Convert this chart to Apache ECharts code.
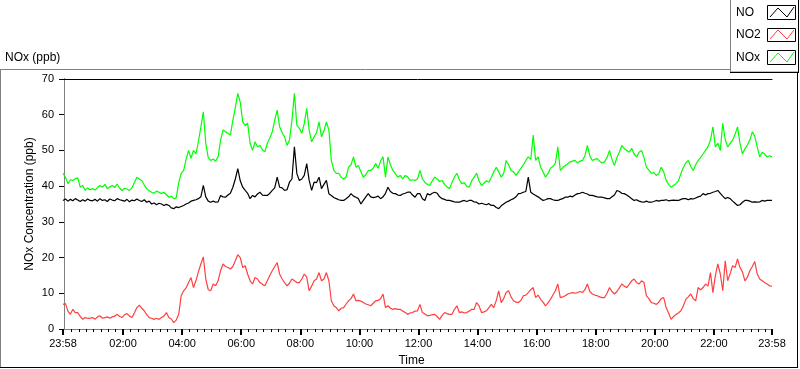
<!DOCTYPE html>
<html>
<head>
<meta charset="utf-8">
<script src="https://cdn.jsdelivr.net/npm/echarts@6/dist/echarts.min.js"></script>
<style>html,body{margin:0;padding:0;background:#fff;}#chart{width:800px;height:369px;}</style>
</head>
<body>
<div id="chart"></div>
<script>
// Sampling: one value every 5 minutes, starting 23:58 (=-2 min) to 23:58 next day
var startMinute = -2;
var stepMinutes = 5;

var tickMinutes = [-2, 120, 240, 360, 480, 600, 720, 840, 960, 1080, 1200, 1320, 1438];
var tickLabels = ['23:58', '02:00', '04:00', '06:00', '08:00', '10:00', '12:00', '14:00', '16:00', '18:00', '20:00', '22:00', '23:58'];

var seriesNames = ['NO', 'NO2', 'NOx'];

var noxValues = [
  43.6, 42.5, 40.7, 41.8, 41.6, 42.1, 42.3, 39.7, 40.2, 38.8, 39.5, 39.0,
  39.3, 38.9, 39.6, 40.2, 39.7, 40.5, 39.3, 39.8, 40.2, 39.6, 40.6, 39.4,
  38.8, 39.4, 39.2, 38.8, 39.5, 41.0, 42.5, 42.0, 41.6, 40.3, 39.3, 38.7,
  38.3, 38.0, 38.6, 38.3, 37.9, 38.3, 37.6, 36.9, 37.2, 36.5, 36.7, 41.0,
  43.6, 44.4, 47.5, 50.0, 47.8, 50.0, 49.0, 52.5, 56.5, 60.8, 52.0, 48.0,
  47.2, 47.6, 47.0, 48.2, 52.9, 55.7, 55.2, 54.8, 54.3, 58.5, 62.0, 66.0,
  63.5, 58.0, 57.0, 57.6, 52.0, 50.0, 52.4, 51.0, 51.4, 50.2, 49.6, 52.0,
  53.5, 55.2, 58.5, 61.3, 56.6, 55.0, 53.8, 51.4, 52.9, 58.5, 66.0, 57.0,
  56.2, 54.8, 57.5, 61.8, 55.7, 52.4, 53.8, 55.0, 58.0, 53.8, 55.5, 58.0,
  55.7, 47.2, 44.4, 43.6, 43.6, 42.5, 42.0, 42.5, 45.3, 46.0, 48.2, 45.3,
  45.8, 44.0, 42.5, 43.2, 44.4, 44.4, 45.0, 46.3, 45.0, 47.0, 48.2, 42.5,
  48.2, 46.0, 44.4, 43.5, 42.5, 43.0, 42.0, 43.0, 42.6, 41.6, 41.8, 41.6,
  42.0, 44.4, 42.0, 41.1, 40.5, 40.2, 41.5, 42.5, 42.0, 41.3, 41.6, 40.5,
  39.8, 39.3, 41.0, 42.5, 43.6, 41.8, 40.7, 41.0, 40.0, 39.7, 41.5, 42.5,
  43.6, 41.5, 40.2, 40.8, 41.5, 41.1, 42.5, 44.0, 45.3, 44.0, 42.5, 43.5,
  47.2, 46.0, 44.4, 44.0, 43.0, 44.0, 45.0, 46.0, 47.2, 48.2, 47.5, 54.3,
  47.2, 48.2, 45.3, 44.0, 42.5, 43.5, 45.0, 45.5, 46.4, 51.0, 44.4, 45.2,
  45.8, 46.3, 46.8, 47.0, 47.2, 46.5, 47.0, 47.2, 48.5, 51.4, 48.5, 47.2,
  47.5, 47.7, 47.0, 46.5, 46.8, 48.0, 50.0, 47.5, 45.8, 48.0, 49.5, 51.4,
  50.5, 50.0, 49.5, 50.6, 49.0, 48.2, 49.5, 50.0, 48.0, 45.3, 44.5, 43.6,
  43.8, 43.0, 43.5, 45.3, 44.0, 41.6, 40.5, 39.7, 40.2, 40.7, 41.5, 43.5,
  45.3, 46.5, 47.2, 45.5, 44.4, 46.0, 47.2, 48.0, 49.0, 50.0, 51.0, 52.9,
  56.6, 51.0, 52.0, 50.0, 57.6, 53.0, 51.0, 52.0, 52.9, 54.5, 56.6, 52.0,
  49.0, 50.5, 51.5, 52.9, 55.2, 54.0, 51.0, 48.2, 49.5, 49.0, 48.2, 48.5,
  48.2
];

var noValues = [
  36.0, 36.4, 35.8, 36.3, 35.9, 36.5, 36.1, 35.7, 36.2, 35.8, 36.4, 36.0,
  35.9, 36.3, 35.8, 36.5, 36.0, 36.2, 35.7, 36.4, 36.1, 35.9, 36.5, 36.2,
  36.0, 35.8, 36.3, 35.6, 36.1, 35.9, 36.4, 36.0, 35.7, 36.2, 35.5, 35.8,
  35.0, 35.3, 34.8, 35.2, 35.0, 34.6, 34.9, 34.6, 33.9, 33.7, 34.2, 34.0,
  34.3, 34.6, 35.0, 35.3, 35.8, 36.0, 36.2, 36.5, 37.0, 40.2, 37.0, 35.8,
  35.5, 35.8, 35.5, 35.6, 37.4, 37.0, 36.9, 37.5, 38.0, 39.7, 42.0, 44.9,
  41.5, 39.7, 38.8, 38.0, 36.5, 37.4, 37.0, 37.8, 38.3, 37.5, 37.4, 37.4,
  38.0, 38.8, 39.5, 42.5, 39.7, 39.5, 38.8, 39.0, 41.1, 42.0, 51.0, 43.5,
  41.6, 42.0, 43.0, 46.3, 41.6, 38.8, 41.1, 41.0, 42.5, 39.3, 40.5, 41.6,
  37.9, 37.4, 36.8, 36.5, 36.2, 36.0, 36.0, 36.5, 37.0, 37.9, 37.2, 36.9,
  36.5, 35.0, 36.0, 37.0, 37.9, 37.0, 36.8, 36.9, 37.2, 36.5, 37.0, 38.0,
  39.7, 38.5, 38.0, 37.9, 37.5, 37.4, 37.8, 38.0, 38.3, 38.3, 37.5, 36.9,
  37.9, 37.9, 36.5, 36.0, 37.9, 37.5, 38.0, 38.3, 38.0, 37.0, 36.5, 36.3,
  36.0, 36.0, 35.8, 35.6, 35.5, 35.5, 35.8, 36.0, 35.7, 36.0, 36.0, 35.6,
  35.5, 35.0, 35.2, 35.0, 34.8, 35.1, 34.6, 34.6, 34.0, 33.7, 34.5, 35.0,
  35.5, 35.8, 36.2, 36.5, 37.0, 37.9, 38.0, 38.3, 38.5, 42.5, 38.3, 37.8,
  37.4, 37.0, 36.5, 36.0, 36.2, 36.5, 36.5, 36.2, 36.0, 36.0, 36.3, 36.5,
  36.9, 36.9, 37.2, 37.0, 37.5, 37.9, 38.0, 38.3, 38.0, 37.8, 37.4, 37.4,
  37.2, 37.0, 36.9, 36.9, 36.7, 36.5, 36.5, 37.0, 37.5, 38.8, 38.5, 38.0,
  37.9, 37.5, 37.0, 36.5, 36.0, 36.2, 35.8, 35.6, 35.5, 35.8, 35.5, 35.5,
  35.7, 36.0, 35.8, 36.0, 36.0, 36.2, 35.9, 36.0, 36.1, 36.0, 36.0, 36.3,
  36.5, 36.5, 36.2, 36.5, 36.4, 36.7, 37.0, 37.2, 37.9, 37.5, 37.9, 38.0,
  38.3, 38.5, 38.8, 38.0, 37.2, 36.5, 36.8, 36.5, 35.8, 35.2, 34.6, 34.8,
  35.5, 36.0, 36.0, 35.8, 35.5, 35.6, 35.5, 35.6, 36.0, 35.8, 36.0, 36.0,
  36.0
];

var no2Values = [
  6.9, 7.1, 5.0, 4.1, 5.5, 4.6, 4.6, 3.5, 2.7, 3.2, 3.0, 3.0,
  3.2, 2.7, 3.4, 3.7, 3.0, 3.2, 3.4, 3.0, 3.4, 3.6, 4.1, 3.5,
  3.2, 4.0, 4.3, 3.6, 3.2, 4.5, 6.0, 6.7, 5.8, 5.1, 4.0, 3.2,
  3.0, 2.7, 3.0, 2.7, 3.2, 3.6, 4.6, 3.2, 2.8, 1.8, 2.5, 4.1,
  9.3, 10.7, 11.5, 13.0, 14.4, 11.6, 13.5, 16.0, 18.2, 20.2, 14.0, 11.0,
  10.7, 12.6, 12.1, 13.5, 16.3, 18.2, 17.5, 17.2, 16.8, 17.5, 19.1, 20.8,
  20.0, 17.2, 17.7, 15.4, 13.5, 12.6, 14.4, 14.0, 13.0, 12.5, 12.1, 13.5,
  15.0, 16.3, 17.5, 18.6, 15.4, 14.0, 13.0, 12.1, 12.8, 14.0, 13.5, 13.0,
  13.0, 14.0, 15.4, 14.5, 10.7, 12.0, 13.5, 14.0, 15.8, 13.5, 14.0, 15.8,
  13.5, 7.9, 6.5, 6.0, 5.1, 5.8, 6.0, 7.0, 7.9, 8.5, 9.8, 7.9,
  8.0, 7.8, 7.4, 7.0, 6.8, 6.5, 7.2, 7.9, 8.0, 8.5, 9.8, 6.0,
  6.5, 5.8, 5.5, 5.7, 5.5, 5.5, 5.0, 4.6, 4.1, 4.5, 4.6, 5.0,
  5.1, 6.9, 4.6, 4.2, 3.7, 3.8, 4.0, 4.1, 3.5, 2.7, 3.8, 4.6,
  4.3, 4.1, 4.1, 5.5, 6.5, 4.6, 4.8, 4.5, 4.6, 5.0, 5.5, 5.5,
  7.4, 6.5, 4.6, 4.8, 5.1, 6.0, 6.9, 6.0, 8.0, 10.7, 7.4, 8.5,
  10.2, 10.7, 9.0, 7.9, 7.5, 7.4, 8.0, 9.3, 9.5, 10.2, 11.0, 11.6,
  8.8, 9.5, 8.3, 7.5, 6.5, 7.3, 8.3, 9.5, 10.7, 12.6, 8.8, 9.0,
  9.3, 9.8, 10.0, 10.2, 10.0, 10.2, 10.5, 10.2, 11.0, 12.6, 10.5, 9.8,
  9.5, 9.3, 9.0, 8.8, 8.8, 10.0, 11.6, 10.5, 9.8, 10.5, 11.5, 12.6,
  12.0, 11.6, 12.5, 13.5, 14.0, 13.0, 12.6, 13.5, 13.0, 9.3, 8.5, 7.4,
  7.2, 6.9, 7.5, 8.5, 8.8, 6.0, 4.5, 2.7, 3.5, 4.1, 4.5, 5.1,
  6.5, 8.3, 9.0, 9.8, 8.5, 7.9, 11.6, 11.0, 11.6, 12.6, 12.0, 15.8,
  10.2, 15.0, 18.2, 15.4, 10.7, 19.1, 13.5, 15.5, 17.7, 17.2, 19.6, 17.2,
  16.0, 13.5, 14.5, 16.3, 17.5, 18.9, 15.4, 14.0, 13.5, 13.0, 12.6, 12.1,
  12.0
];

function toPairs(values) {
  return values.map(function (v, i) { return [startMinute + i * stepMinutes, v]; });
}

var minorTicks = [];
for (var m = 15; m < 1438; m += 15) {
  if (m % 120 !== 0) minorTicks.push(m);
}

var FONT = 'Liberation Sans';
var chart = echarts.init(document.getElementById('chart'), null, { renderer: 'canvas' });

var option = {
  animation: false,
  backgroundColor: '#ffffff',
  grid: { left: 63, right: 28, top: 79, bottom: 40, show: false, containLabel: false, outerBoundsMode: 'none' },
  xAxis: [
    {
      type: 'value', min: -2, max: 1438, position: 'bottom',
      name: 'Time', nameLocation: 'middle', nameGap: 26, nameMoveOverlap: false,
      nameTextStyle: { fontFamily: FONT, fontSize: 12, color: '#000', padding: [0, 12, 0, 0] },
      axisLine: { show: true, lineStyle: { color: '#808080', width: 1 } },
      axisTick: { show: true, customValues: tickMinutes, length: 6, lineStyle: { color: '#000', width: 2 } },
      axisLabel: {
        show: true, customValues: tickMinutes, margin: 9,
        fontFamily: FONT, fontSize: 11, color: '#000',
        formatter: function (v) { var k = tickMinutes.indexOf(v); return k >= 0 ? tickLabels[k] : ''; }
      },
      splitLine: { show: false }
    },
    {
      type: 'value', min: -2, max: 1438, position: 'bottom', offset: 0,
      axisLine: { show: true, lineStyle: { color: '#808080', width: 1 } },
      axisTick: { show: true, customValues: minorTicks, length: 3, lineStyle: { color: '#000', width: 1 } },
      axisLabel: { show: true, customValues: minorTicks, formatter: function () { return ''; } },
      splitLine: { show: false }
    },
    {
      type: 'value', min: -2, max: 1438, position: 'top',
      axisLine: { show: true, lineStyle: { color: '#000', width: 1 } },
      axisTick: { show: false }, axisLabel: { show: false }, splitLine: { show: false }
    }
  ],
  yAxis: [
    {
      type: 'value', min: 0, max: 70, interval: 10, position: 'left',
      name: 'NOx Concentration (ppb)', nameLocation: 'middle', nameGap: 27, nameMoveOverlap: false,
      nameTextStyle: { fontFamily: FONT, fontSize: 12, color: '#000' },
      axisLine: { show: true, lineStyle: { color: '#000', width: 1 } },
      axisTick: { show: true, length: 5, lineStyle: { color: '#000', width: 1 } },
      axisLabel: { show: true, margin: 9, fontFamily: FONT, fontSize: 11, color: '#000' },
      splitLine: { show: false }
    },
    {
      type: 'value', min: 0, max: 70, position: 'right',
      axisLine: { show: true, lineStyle: { color: '#808080', width: 1 } },
      axisTick: { show: false }, axisLabel: { show: false }, splitLine: { show: false }
    }
  ],
  series: [
    { name: 'NOx', type: 'line', data: toPairs(noxValues), showSymbol: false, symbol: 'none',
      lineStyle: { color: '#00ff00', width: 1.2 }, itemStyle: { color: '#00ff00' } },
    { name: 'NO', type: 'line', data: toPairs(noValues), showSymbol: false, symbol: 'none',
      lineStyle: { color: '#000000', width: 1.2 }, itemStyle: { color: '#000000' } },
    { name: 'NO2', type: 'line', data: toPairs(no2Values), showSymbol: false, symbol: 'none',
      lineStyle: { color: '#ff4040', width: 1.2 }, itemStyle: { color: '#ff4040' } }
  ],
  graphic: [
    { type: 'line', shape: { x1: 0, y1: 69.5, x2: 731, y2: 69.5 }, style: { stroke: '#808080', lineWidth: 1 } },
    { type: 'line', shape: { x1: 0.5, y1: 69, x2: 0.5, y2: 368 }, style: { stroke: '#808080', lineWidth: 1 } },
    { type: 'line', shape: { x1: 0, y1: 367.5, x2: 798, y2: 367.5 }, style: { stroke: '#000', lineWidth: 1 } },
    { type: 'line', shape: { x1: 797.5, y1: 72, x2: 797.5, y2: 368 }, style: { stroke: '#000', lineWidth: 1 } },
    { type: 'text', left: 5, top: 52, style: { text: 'NOx (ppb)', fontFamily: FONT, fontSize: 12, fill: '#000' } },
    { type: 'rect', shape: { x: 730.5, y: -1, width: 68, height: 73 }, style: { fill: '#fff', stroke: '#808080', lineWidth: 1 } },
    { type: 'line', shape: { x1: 730, y1: 72.5, x2: 799, y2: 72.5 }, style: { stroke: '#000', lineWidth: 1 } },
    { type: 'line', shape: { x1: 798.5, y1: 0, x2: 798.5, y2: 73 }, style: { stroke: '#000', lineWidth: 1 } },
    { type: 'text', left: 736, top: 7, style: { text: seriesNames[0], fontFamily: FONT, fontSize: 12, fill: '#000' } },
    { type: 'text', left: 736, top: 29, style: { text: seriesNames[1], fontFamily: FONT, fontSize: 12, fill: '#000' } },
    { type: 'text', left: 736, top: 52, style: { text: seriesNames[2], fontFamily: FONT, fontSize: 12, fill: '#000' } },
    { type: 'rect', shape: { x: 767.5, y: 5.5, width: 28, height: 14 }, style: { fill: '#fff', stroke: '#000', lineWidth: 1 } },
    { type: 'polyline', shape: { points: [[770, 17], [778, 8], [787, 17], [794, 7]] }, style: { stroke: '#000', lineWidth: 1, fill: null } },
    { type: 'rect', shape: { x: 767.5, y: 28.5, width: 28, height: 13 }, style: { fill: '#fff', stroke: '#000', lineWidth: 1 } },
    { type: 'polyline', shape: { points: [[770, 39], [778, 30], [787, 39], [794, 30]] }, style: { stroke: '#ff4040', lineWidth: 1, fill: null } },
    { type: 'rect', shape: { x: 767.5, y: 50.5, width: 28, height: 14 }, style: { fill: '#fff', stroke: '#000', lineWidth: 1 } },
    { type: 'polyline', shape: { points: [[770, 62], [778, 53], [787, 62], [794, 52]] }, style: { stroke: '#00ff00', lineWidth: 1, fill: null } }
  ]
};
chart.setOption(option);
</script>
</body>
</html>
